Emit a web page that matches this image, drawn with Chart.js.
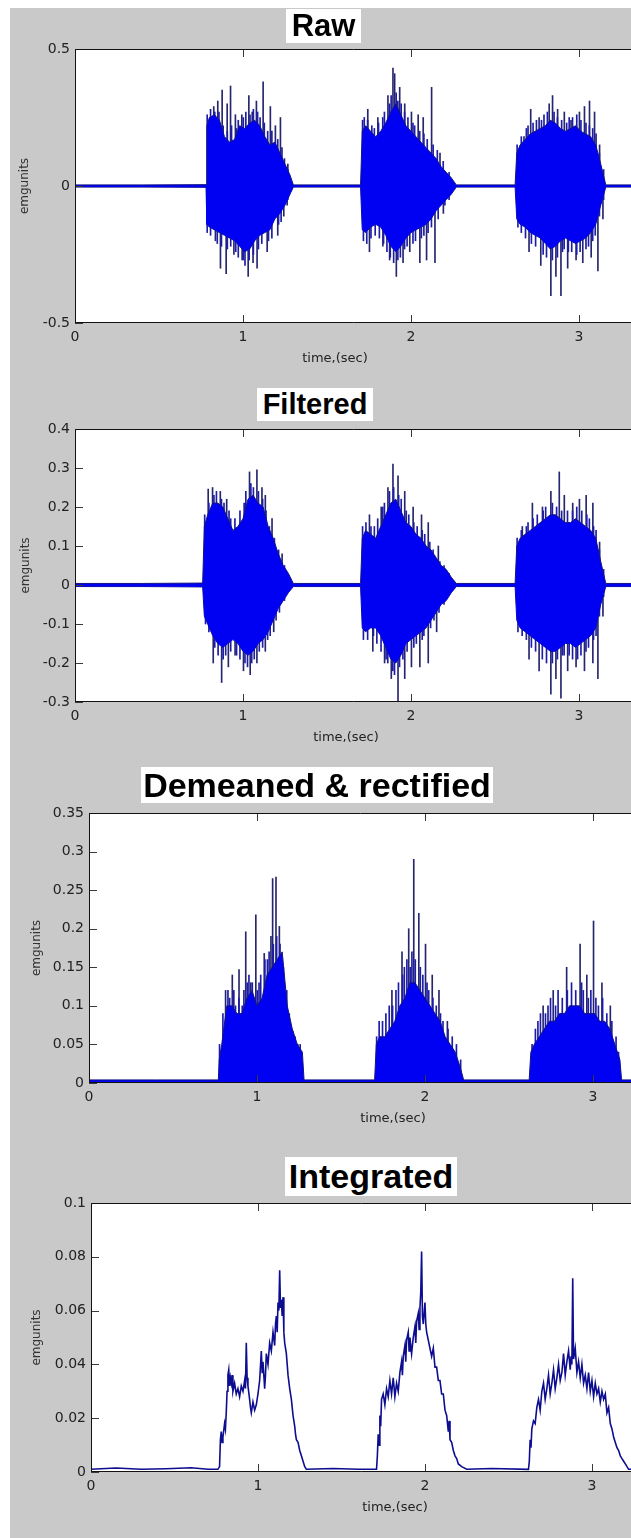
<!DOCTYPE html>
<html>
<head>
<meta charset="utf-8">
<title>EMG processing</title>
<script src="https://cdn.jsdelivr.net/npm/chart.js@4.4.1/dist/chart.umd.min.js"></script>
<style>
  html, body { margin: 0; padding: 0; background: #fff; }
  body { position: relative; width: 631px; height: 1538px; overflow: hidden; }
  #figure { position: absolute; left: 10px; top: 8px; right: 0; bottom: 0; background: #c9c9c9; }
  canvas { position: absolute; left: 10px; }
  .ttl { position: absolute; background: #fff; color: #000; text-align: center; white-space: nowrap;
         font-family: "Liberation Sans", Arial, sans-serif; font-weight: bold; }
</style>
</head>
<body>
<div id="figure"></div>
<canvas id="c1" width="621" height="343" style="top:29px"></canvas>
<canvas id="c2" width="621" height="343" style="top:409px"></canvas>
<canvas id="c3" width="621" height="344" style="top:793px"></canvas>
<canvas id="c4" width="621" height="342" style="top:1183px"></canvas>
<div class="ttl" style="left:286px;top:9px;width:75px;height:34px;line-height:34px;font-size:31px">Raw</div>
<div class="ttl" style="left:257px;top:388px;width:116px;height:33px;line-height:33px;font-size:29px">Filtered</div>
<div class="ttl" style="left:141px;top:767px;width:352px;height:36px;line-height:36px;font-size:34px">Demeaned &amp; rectified</div>
<div class="ttl" style="left:285px;top:1157px;width:172px;height:39px;line-height:39px;font-size:34px">Integrated</div>
<script>
// ---- time axis (s) ----
const timeTicks = [0, 1, 2, 3];

// ---- raw EMG: envelope of the dense trace, big peaks, small peaks ----
const rawT = [0, 0.4, 0.78, 0.785, 0.80, 0.83, 0.86, 0.89, 0.92, 0.95, 0.98, 1.01, 1.04, 1.07, 1.10, 1.13, 1.16, 1.19, 1.22, 1.25, 1.28, 1.30,
  1.70, 1.71, 1.73, 1.76, 1.79, 1.82, 1.85, 1.88, 1.91, 1.94, 1.97, 2.00, 2.03, 2.06, 2.09, 2.12, 2.15, 2.18, 2.21, 2.24, 2.27,
  2.62, 2.63, 2.65, 2.68, 2.71, 2.74, 2.77, 2.80, 2.83, 2.86, 2.89, 2.92, 2.95, 2.98, 3.01, 3.04, 3.07, 3.10, 3.13, 3.16, 3.40];
const rawHi = [0.004, 0.004, 0.005, 0.22, 0.25, 0.26, 0.24, 0.18, 0.16, 0.17, 0.22, 0.21, 0.23, 0.24, 0.22, 0.18, 0.15, 0.16, 0.12, 0.08, 0.04, 0.004,
  0.004, 0.20, 0.22, 0.20, 0.18, 0.20, 0.23, 0.27, 0.30, 0.26, 0.22, 0.20, 0.18, 0.16, 0.14, 0.12, 0.10, 0.07, 0.05, 0.03, 0.004,
  0.004, 0.12, 0.15, 0.17, 0.19, 0.20, 0.21, 0.22, 0.24, 0.23, 0.21, 0.20, 0.21, 0.22, 0.20, 0.19, 0.18, 0.15, 0.08, 0.004, 0.004];
const rawLo = [-0.004, -0.004, -0.005, -0.14, -0.15, -0.16, -0.17, -0.18, -0.19, -0.20, -0.22, -0.24, -0.23, -0.20, -0.18, -0.17, -0.16, -0.12, -0.10, -0.07, -0.03, -0.004,
  -0.004, -0.16, -0.17, -0.15, -0.14, -0.15, -0.18, -0.22, -0.24, -0.22, -0.19, -0.17, -0.16, -0.15, -0.14, -0.12, -0.09, -0.07, -0.05, -0.03, -0.004,
  -0.004, -0.12, -0.14, -0.15, -0.17, -0.18, -0.19, -0.21, -0.23, -0.22, -0.20, -0.19, -0.20, -0.21, -0.20, -0.19, -0.17, -0.14, -0.07, -0.004, -0.004];
const rawPeakT = [0.823, 0.847, 0.873, 0.903, 0.923, 0.952, 0.99, 1.032, 1.052, 1.077, 1.117, 1.16, 1.19, 1.22, 1.244, 1.264,
  0.833, 0.863, 0.897, 0.943, 0.992, 1.028, 1.057, 1.081, 1.141, 1.204, 1.24, 1.26,
  1.74, 1.80, 1.86, 1.89, 1.90, 1.93, 1.96, 2.00, 2.04, 2.07, 2.12, 2.17,
  1.75, 1.83, 1.87, 1.91, 1.95, 1.99, 2.05, 2.09, 2.14, 2.19,
  2.67, 2.71, 2.76, 2.82, 2.84, 2.87, 2.91, 2.95, 3.00, 3.03, 3.06, 3.09, 3.12,
  2.70, 2.77, 2.83, 2.86, 2.89, 2.93, 2.98, 3.02, 3.07, 3.11, 3.14];
const rawPeakV = [0.29, 0.31, 0.35, 0.30, 0.365, 0.26, 0.26, 0.33, 0.27, 0.31, 0.38, 0.29, 0.22, 0.25, 0.10, 0.08,
  -0.20, -0.30, -0.32, -0.25, -0.27, -0.33, -0.28, -0.30, -0.24, -0.18, -0.11, -0.07,
  0.28, 0.25, 0.33, 0.43, 0.41, 0.36, 0.30, 0.27, 0.26, 0.25, 0.36, 0.12,
  -0.24, -0.22, -0.27, -0.33, -0.28, -0.24, -0.28, -0.27, -0.28, -0.10,
  0.18, 0.28, 0.25, 0.30, 0.33, 0.28, 0.27, 0.24, 0.27, 0.29, 0.31, 0.27, 0.15,
  -0.24, -0.29, -0.40, -0.33, -0.40, -0.30, -0.27, -0.28, -0.26, -0.31, -0.12];
const rawFineT = [0.79, 0.81, 0.835, 0.86, 0.885, 0.91, 0.935, 0.965, 0.975, 1.005, 1.02, 1.045, 1.065, 1.09, 1.105, 1.13, 1.15, 1.175, 1.21, 1.235, 1.27,
  0.79, 0.81, 0.85, 0.875, 0.91, 0.93, 0.96, 0.975, 1.005, 1.015, 1.04, 1.065, 1.095, 1.115, 1.155, 1.175, 1.215, 1.23, 1.27,
  1.715, 1.725, 1.745, 1.77, 1.785, 1.81, 1.835, 1.845, 1.875, 1.885, 1.915, 1.925, 1.945, 1.965, 1.985, 2.015, 2.025, 2.055, 2.08, 2.10, 2.135, 2.16, 2.195, 2.23,
  1.72, 1.74, 1.765, 1.79, 1.815, 1.84, 1.86, 1.88, 1.90, 1.925, 1.94, 1.965, 1.98, 2.015, 2.03, 2.065, 2.08, 2.105, 2.125, 2.165, 2.205, 2.23,
  2.635, 2.66, 2.69, 2.70, 2.73, 2.75, 2.78, 2.795, 2.815, 2.855, 2.875, 2.90, 2.93, 2.945, 2.965, 2.99, 3.015, 3.045, 3.065, 3.085, 3.105, 3.125, 3.15,
  2.64, 2.66, 2.685, 2.72, 2.745, 2.79, 2.81, 2.845, 2.875, 2.905, 2.915, 2.94, 2.96, 2.99, 3.01, 3.045, 3.06, 3.085, 3.10, 3.125, 3.15];
const rawFineV = [0.26, 0.28, 0.27, 0.27, 0.22, 0.20, 0.22, 0.21, 0.24, 0.25, 0.27, 0.26, 0.28, 0.27, 0.25, 0.23, 0.20, 0.20, 0.17, 0.14, 0.06,
  -0.17, -0.18, -0.21, -0.22, -0.23, -0.22, -0.24, -0.26, -0.27, -0.29, -0.27, -0.25, -0.23, -0.21, -0.20, -0.19, -0.14, -0.13, -0.05,
  0.24, 0.25, 0.24, 0.22, 0.21, 0.23, 0.25, 0.27, 0.30, 0.33, 0.34, 0.31, 0.30, 0.27, 0.25, 0.23, 0.22, 0.20, 0.19, 0.17, 0.15, 0.13, 0.09, 0.05,
  -0.20, -0.21, -0.19, -0.18, -0.19, -0.21, -0.24, -0.26, -0.28, -0.27, -0.26, -0.23, -0.22, -0.21, -0.20, -0.19, -0.18, -0.17, -0.15, -0.12, -0.07, -0.05,
  0.15, 0.18, 0.21, 0.22, 0.23, 0.24, 0.24, 0.26, 0.27, 0.27, 0.25, 0.24, 0.23, 0.25, 0.25, 0.26, 0.24, 0.23, 0.22, 0.21, 0.19, 0.12, 0.06,
  -0.15, -0.17, -0.19, -0.21, -0.22, -0.25, -0.26, -0.27, -0.26, -0.24, -0.23, -0.24, -0.24, -0.25, -0.24, -0.23, -0.22, -0.20, -0.18, -0.11, -0.05];
const rawYTicks = [-0.5, 0, 0.5];

// ---- filtered EMG ----
const filtT = [0, 0.4, 0.76, 0.77, 0.79, 0.82, 0.85, 0.88, 0.91, 0.94, 0.97, 1.00, 1.03, 1.06, 1.09, 1.12, 1.15, 1.18, 1.21, 1.24, 1.27, 1.30,
  1.70, 1.71, 1.73, 1.76, 1.79, 1.82, 1.85, 1.88, 1.91, 1.94, 1.97, 2.00, 2.03, 2.06, 2.09, 2.12, 2.15, 2.18, 2.21, 2.24, 2.27,
  2.62, 2.63, 2.65, 2.68, 2.71, 2.74, 2.77, 2.80, 2.83, 2.86, 2.89, 2.92, 2.95, 2.98, 3.01, 3.04, 3.07, 3.10, 3.13, 3.16, 3.40];
const filtHi = [0.004, 0.004, 0.005, 0.15, 0.18, 0.21, 0.21, 0.20, 0.17, 0.14, 0.15, 0.17, 0.22, 0.23, 0.21, 0.20, 0.15, 0.12, 0.08, 0.05, 0.03, 0.004,
  0.004, 0.12, 0.14, 0.13, 0.12, 0.15, 0.18, 0.21, 0.22, 0.19, 0.16, 0.15, 0.13, 0.12, 0.10, 0.09, 0.07, 0.05, 0.04, 0.02, 0.004,
  0.004, 0.10, 0.12, 0.13, 0.14, 0.15, 0.16, 0.17, 0.18, 0.18, 0.17, 0.16, 0.16, 0.17, 0.16, 0.15, 0.14, 0.12, 0.06, 0.004, 0.004];
const filtLo = [-0.004, -0.004, -0.005, -0.08, -0.10, -0.13, -0.15, -0.16, -0.15, -0.14, -0.15, -0.17, -0.18, -0.17, -0.15, -0.14, -0.12, -0.09, -0.06, -0.04, -0.02, -0.004,
  -0.004, -0.11, -0.12, -0.11, -0.11, -0.13, -0.16, -0.19, -0.20, -0.18, -0.15, -0.14, -0.13, -0.12, -0.11, -0.09, -0.07, -0.05, -0.04, -0.02, -0.004,
  -0.004, -0.09, -0.11, -0.12, -0.13, -0.14, -0.15, -0.16, -0.17, -0.17, -0.16, -0.15, -0.15, -0.16, -0.15, -0.14, -0.13, -0.11, -0.05, -0.004, -0.004];
const filtPeakT = [0.79, 0.816, 0.862, 0.90, 0.98, 1.036, 1.08, 1.11, 1.13, 1.17, 1.23,
  0.82, 0.87, 0.91, 0.95, 1.00, 1.04, 1.08, 1.13, 1.18,
  1.75, 1.82, 1.86, 1.89, 1.92, 1.96, 2.01, 2.06, 2.10, 2.16,
  1.77, 1.84, 1.88, 1.92, 1.96, 2.00, 2.05, 2.10, 2.15,
  2.66, 2.72, 2.78, 2.83, 2.88, 2.91, 2.96, 3.00, 3.04, 3.08, 3.12,
  2.70, 2.76, 2.83, 2.86, 2.89, 2.93, 2.98, 3.03, 3.08, 3.11, 3.14];
const filtPeakV = [0.246, 0.25, 0.24, 0.22, 0.16, 0.29, 0.295, 0.25, 0.23, 0.17, 0.08,
  -0.20, -0.25, -0.21, -0.18, -0.22, -0.23, -0.20, -0.17, -0.12,
  0.18, 0.20, 0.25, 0.31, 0.28, 0.24, 0.20, 0.18, 0.16, 0.10,
  -0.17, -0.20, -0.24, -0.30, -0.24, -0.21, -0.21, -0.20, -0.12,
  0.15, 0.21, 0.20, 0.24, 0.29, 0.23, 0.21, 0.22, 0.23, 0.21, 0.11,
  -0.19, -0.22, -0.28, -0.24, -0.29, -0.22, -0.21, -0.22, -0.20, -0.24, -0.08];
const filtFineT = [0.775, 0.80, 0.83, 0.845, 0.875, 0.89, 0.92, 0.93, 0.955, 0.985, 1.01, 1.02, 1.05, 1.065, 1.095, 1.12, 1.14, 1.16, 1.19, 1.215, 1.25,
  0.78, 0.80, 0.835, 0.855, 0.885, 0.90, 0.93, 0.965, 0.985, 1.015, 1.03, 1.055, 1.07, 1.10, 1.12, 1.15, 1.165, 1.20, 1.22, 1.25,
  1.715, 1.735, 1.765, 1.785, 1.805, 1.835, 1.845, 1.875, 1.90, 1.93, 1.945, 1.975, 1.99, 2.02, 2.04, 2.07, 2.085, 2.115, 2.135, 2.175, 2.20, 2.23,
  1.72, 1.745, 1.78, 1.80, 1.825, 1.855, 1.865, 1.895, 1.905, 1.935, 1.955, 1.98, 2.02, 2.035, 2.07, 2.08, 2.12, 2.14, 2.17, 2.20,
  2.635, 2.66, 2.69, 2.70, 2.73, 2.755, 2.79, 2.805, 2.845, 2.87, 2.90, 2.935, 2.965, 2.99, 3.02, 3.05, 3.065, 3.09, 3.105, 3.125, 3.15,
  2.64, 2.665, 2.69, 2.72, 2.745, 2.785, 2.81, 2.845, 2.875, 2.905, 2.915, 2.945, 2.965, 2.995, 3.015, 3.045, 3.06, 3.09, 3.105, 3.125, 3.15];
const filtFineV = [0.18, 0.21, 0.23, 0.24, 0.22, 0.21, 0.19, 0.17, 0.17, 0.19, 0.21, 0.24, 0.26, 0.25, 0.24, 0.22, 0.19, 0.15, 0.12, 0.09, 0.05,
  -0.10, -0.12, -0.16, -0.18, -0.19, -0.18, -0.17, -0.18, -0.19, -0.20, -0.21, -0.20, -0.19, -0.17, -0.16, -0.14, -0.13, -0.09, -0.07, -0.04,
  0.15, 0.16, 0.15, 0.15, 0.17, 0.20, 0.21, 0.24, 0.25, 0.23, 0.22, 0.19, 0.18, 0.16, 0.15, 0.14, 0.13, 0.11, 0.09, 0.06, 0.05, 0.03,
  -0.14, -0.14, -0.13, -0.15, -0.17, -0.19, -0.20, -0.22, -0.23, -0.21, -0.19, -0.17, -0.16, -0.15, -0.14, -0.13, -0.11, -0.09, -0.07, -0.05,
  0.12, 0.14, 0.15, 0.16, 0.17, 0.18, 0.19, 0.20, 0.21, 0.20, 0.19, 0.19, 0.19, 0.20, 0.19, 0.18, 0.17, 0.15, 0.14, 0.09, 0.04,
  -0.12, -0.13, -0.14, -0.16, -0.17, -0.19, -0.20, -0.20, -0.19, -0.18, -0.18, -0.18, -0.19, -0.19, -0.18, -0.17, -0.16, -0.14, -0.13, -0.08, -0.03];
const filtYTicks = [-0.3, -0.2, -0.1, 0, 0.1, 0.2, 0.3, 0.4];

// ---- demeaned & rectified ----
const rectT = [0, 0.4, 0.77, 0.775, 0.79, 0.82, 0.85, 0.88, 0.91, 0.94, 0.97, 1.00, 1.03, 1.06, 1.09, 1.12, 1.15, 1.18, 1.21, 1.24, 1.27, 1.28,
  1.70, 1.71, 1.73, 1.76, 1.79, 1.82, 1.85, 1.88, 1.91, 1.94, 1.97, 2.00, 2.03, 2.06, 2.09, 2.12, 2.15, 2.18, 2.21, 2.23,
  2.62, 2.63, 2.65, 2.68, 2.71, 2.74, 2.77, 2.80, 2.83, 2.86, 2.89, 2.92, 2.95, 2.98, 3.01, 3.04, 3.07, 3.10, 3.13, 3.16, 3.17, 3.40];
const rectHi = [0.004, 0.004, 0.004, 0.03, 0.05, 0.10, 0.10, 0.09, 0.09, 0.11, 0.12, 0.10, 0.11, 0.14, 0.15, 0.16, 0.17, 0.10, 0.07, 0.05, 0.04, 0.004,
  0.004, 0.05, 0.06, 0.06, 0.07, 0.08, 0.10, 0.11, 0.13, 0.13, 0.12, 0.11, 0.10, 0.09, 0.08, 0.06, 0.05, 0.04, 0.02, 0.004,
  0.004, 0.04, 0.05, 0.06, 0.07, 0.08, 0.08, 0.09, 0.09, 0.10, 0.10, 0.10, 0.09, 0.09, 0.09, 0.08, 0.08, 0.07, 0.05, 0.03, 0.004, 0.004];
const rectPeakT = [0.81, 0.85, 0.89, 0.93, 0.96, 0.99, 1.04, 1.08, 1.09, 1.11, 1.13, 1.17, 1.21, 1.24,
  1.80, 1.86, 1.90, 1.93, 1.96, 2.00, 2.04, 2.08, 2.13,
  2.70, 2.76, 2.84, 2.92, 2.96, 3.00, 3.05, 3.10];
const rectPeakV = [0.12, 0.14, 0.147, 0.196, 0.13, 0.218, 0.168, 0.19, 0.265, 0.267, 0.203, 0.114, 0.067, 0.05,
  0.12, 0.17, 0.20, 0.29, 0.22, 0.18, 0.14, 0.12, 0.08,
  0.10, 0.12, 0.15, 0.18, 0.14, 0.21, 0.13, 0.10];
const rectFineT = [0.78, 0.80, 0.83, 0.84, 0.865, 0.875, 0.895, 0.915, 0.925, 0.945, 0.955, 0.975, 1.005, 1.015, 1.025, 1.05, 1.065, 1.075, 1.10, 1.12, 1.14, 1.16, 1.18, 1.195, 1.23, 1.26,
  1.715, 1.73, 1.75, 1.77, 1.79, 1.81, 1.83, 1.845, 1.87, 1.88, 1.895, 1.915, 1.925, 1.945, 1.975, 1.99, 2.015, 2.025, 2.05, 2.07, 2.095, 2.11, 2.14, 2.165, 2.19, 2.215,
  2.64, 2.66, 2.675, 2.69, 2.72, 2.735, 2.75, 2.78, 2.795, 2.82, 2.85, 2.875, 2.90, 2.935, 2.945, 2.975, 2.99, 3.02, 3.035, 3.06, 3.085, 3.115, 3.14, 3.155];
const rectFineV = [0.05, 0.09, 0.12, 0.11, 0.12, 0.10, 0.11, 0.10, 0.12, 0.13, 0.14, 0.13, 0.12, 0.13, 0.14, 0.16, 0.16, 0.17, 0.18, 0.19, 0.18, 0.15, 0.12, 0.09, 0.06, 0.05,
  0.06, 0.08, 0.08, 0.09, 0.10, 0.10, 0.12, 0.13, 0.14, 0.15, 0.16, 0.15, 0.17, 0.16, 0.15, 0.14, 0.13, 0.12, 0.11, 0.10, 0.09, 0.08, 0.07, 0.06, 0.05, 0.03,
  0.05, 0.07, 0.08, 0.09, 0.09, 0.10, 0.11, 0.10, 0.12, 0.11, 0.12, 0.13, 0.12, 0.13, 0.12, 0.11, 0.12, 0.11, 0.10, 0.11, 0.09, 0.08, 0.06, 0.04];
const rectYTicks = [0, 0.05, 0.1, 0.15, 0.2, 0.25, 0.3, 0.35];

// ---- integrated ----
const integT = [0, 0.15, 0.3, 0.45, 0.6, 0.7, 0.76, 0.77, 0.775, 0.78, 0.785, 0.79, 0.80, 0.805, 0.81, 0.815, 0.82, 0.825, 0.83, 0.835,
  0.84, 0.845, 0.85, 0.86, 0.87, 0.88, 0.89, 0.90, 0.91, 0.92, 0.925, 0.93, 0.935, 0.94, 0.95, 0.955, 0.96, 0.97, 0.98, 0.99,
  1.00, 1.01, 1.02, 1.025, 1.03, 1.04, 1.045, 1.05, 1.06, 1.07, 1.08, 1.09, 1.10, 1.105, 1.11, 1.115, 1.12, 1.125, 1.13, 1.135,
  1.14, 1.145, 1.15, 1.155, 1.16, 1.17, 1.18, 1.19, 1.20, 1.205, 1.21, 1.22, 1.225, 1.23, 1.24, 1.25, 1.26, 1.27, 1.28, 1.29,
  1.45, 1.6, 1.71,
  1.715, 1.72, 1.725, 1.73, 1.735, 1.74, 1.75, 1.76, 1.77, 1.78, 1.79, 1.80, 1.81, 1.82, 1.83, 1.84, 1.85, 1.86, 1.865, 1.87,
  1.88, 1.885, 1.89, 1.90, 1.905, 1.91, 1.92, 1.93, 1.94, 1.945, 1.95, 1.96, 1.965, 1.97, 1.975, 1.98, 1.985, 1.99, 2.00, 2.005,
  2.01, 2.02, 2.03, 2.04, 2.05, 2.06, 2.07, 2.08, 2.09, 2.10, 2.11, 2.12, 2.13, 2.14, 2.145, 2.15, 2.16, 2.17, 2.18, 2.19,
  2.20, 2.22, 2.25, 2.4, 2.62,
  2.625, 2.63, 2.635, 2.64, 2.65, 2.66, 2.67, 2.68, 2.69, 2.70, 2.71, 2.72, 2.73, 2.74, 2.75, 2.76, 2.77, 2.78, 2.79, 2.80,
  2.81, 2.82, 2.83, 2.84, 2.85, 2.86, 2.87, 2.875, 2.88, 2.885, 2.89, 2.90, 2.91, 2.92, 2.93, 2.94, 2.95, 2.96, 2.97, 2.98,
  2.99, 3.00, 3.01, 3.02, 3.03, 3.04, 3.05, 3.06, 3.07, 3.08, 3.09, 3.10, 3.11, 3.12, 3.13, 3.14, 3.15, 3.16, 3.17, 3.18,
  3.19, 3.20, 3.21, 3.22, 3.40];
const integV = [0.001, 0.0015, 0.001, 0.0012, 0.0016, 0.001, 0.001, 0.002, 0.012, 0.015, 0.011, 0.013, 0.018, 0.016, 0.022, 0.030, 0.036, 0.038, 0.032, 0.035,
  0.033, 0.036, 0.030, 0.033, 0.029, 0.031, 0.028, 0.032, 0.030, 0.034, 0.031, 0.048, 0.035, 0.032, 0.027, 0.024, 0.022, 0.026, 0.023, 0.025,
  0.029, 0.034, 0.045, 0.037, 0.041, 0.031, 0.036, 0.044, 0.040, 0.048, 0.045, 0.052, 0.047, 0.055, 0.058, 0.052, 0.063, 0.060, 0.075, 0.061,
  0.064, 0.058, 0.065, 0.052, 0.048, 0.044, 0.036, 0.031, 0.027, 0.024, 0.021, 0.017, 0.014, 0.012, 0.011, 0.008, 0.006, 0.004, 0.002, 0.001,
  0.0013, 0.001, 0.001,
  0.006, 0.014, 0.010, 0.021, 0.017, 0.027, 0.029, 0.025, 0.031, 0.028, 0.034, 0.029, 0.035, 0.028, 0.033, 0.030, 0.037, 0.041, 0.036, 0.043,
  0.047, 0.041, 0.049, 0.052, 0.045, 0.050, 0.044, 0.050, 0.054, 0.048, 0.056, 0.059, 0.053, 0.061, 0.067, 0.082, 0.058, 0.055, 0.063, 0.055,
  0.052, 0.049, 0.046, 0.043, 0.046, 0.039, 0.039, 0.034, 0.034, 0.029, 0.029, 0.023, 0.021, 0.015, 0.019, 0.012, 0.011, 0.008, 0.006, 0.005,
  0.003, 0.002, 0.001, 0.0013, 0.001,
  0.004, 0.012, 0.009, 0.016, 0.019, 0.018, 0.024, 0.027, 0.023, 0.030, 0.033, 0.027, 0.031, 0.036, 0.029, 0.033, 0.038, 0.031, 0.035, 0.040,
  0.034, 0.037, 0.044, 0.036, 0.041, 0.045, 0.038, 0.043, 0.040, 0.072, 0.042, 0.046, 0.037, 0.041, 0.035, 0.040, 0.033, 0.036, 0.031, 0.037,
  0.030, 0.034, 0.028, 0.033, 0.029, 0.031, 0.026, 0.030, 0.027, 0.029, 0.022, 0.024, 0.018, 0.016, 0.013, 0.011, 0.009, 0.008, 0.006, 0.005,
  0.004, 0.003, 0.002, 0.001, 0.001];
const integYTicks = [0, 0.02, 0.04, 0.06, 0.08, 0.1];

// ---- styling ----
const FILL = '#0000f2';
const EDGE = '#141485';
const PEAK = '#26266e';
const FINE = '#1c1ca8';
const TICK_FONT = { family: 'DejaVu Sans', size: 14 };
const LABEL_FONT = { family: 'DejaVu Sans', size: 12 };

const pts = (xs, ys) => xs.map((x, i) => ({ x: x, y: ys[i] }));

// white axes box, inward tick marks, xlabel
const matlabAxes = {
  id: 'matlabAxes',
  beforeDraw(chart) {
    const { ctx, chartArea: a } = chart;
    ctx.save();
    ctx.fillStyle = '#fff';
    ctx.fillRect(a.left, a.top, a.right - a.left, a.bottom - a.top);
    ctx.restore();
  },
  afterDraw(chart, args, opts) {
    const { ctx, chartArea: a, scales } = chart;
    const x = scales.x, y = scales.y;
    const L = 8;
    ctx.save();
    ctx.lineWidth = 1;
    ctx.strokeStyle = '#3a3a3a';
    ctx.beginPath();
    x.ticks.forEach(t => {
      const px = Math.round(x.getPixelForValue(t.value)) + 0.5;
      ctx.moveTo(px, a.bottom); ctx.lineTo(px, a.bottom - L);
      ctx.moveTo(px, a.top); ctx.lineTo(px, a.top + L);
    });
    y.ticks.forEach(t => {
      const py = Math.round(y.getPixelForValue(t.value)) + 0.5;
      ctx.moveTo(a.left, py); ctx.lineTo(a.left + L, py);
    });
    ctx.stroke();
    ctx.strokeStyle = '#111';
    ctx.beginPath();
    ctx.moveTo(a.right, a.top + 0.5);
    ctx.lineTo(a.left + 0.5, a.top + 0.5);
    ctx.lineTo(a.left + 0.5, a.bottom - 0.5);
    ctx.lineTo(a.right, a.bottom - 0.5);
    ctx.stroke();
    ctx.fillStyle = '#222';
    ctx.font = '13px "DejaVu Sans"';
    ctx.textAlign = 'center';
    ctx.textBaseline = 'middle';
    ctx.fillText('time,(sec)', a.left + opts.labelDx, a.bottom + opts.labelDy);
    ctx.restore();
  }
};

function panel(id, p) {
  return new Chart(document.getElementById(id), {
    type: 'line',
    data: { datasets: p.datasets },
    plugins: [matlabAxes],
    options: {
      responsive: false,
      animation: false,
      layout: { padding: { top: p.padTop, left: 0, right: 0, bottom: 0 } },
      elements: { point: { radius: 0 }, line: { tension: 0 } },
      plugins: {
        legend: { display: false },
        tooltip: { enabled: false },
        matlabAxes: { labelDx: p.labelDx, labelDy: 36 }
      },
      scales: {
        x: {
          type: 'linear', min: 0, max: p.xMax, offset: false,
          afterBuildTicks: s => { s.ticks = timeTicks.map(v => ({ value: v })); },
          afterFit: s => { s.height = p.axisH; },
          grid: { display: false, drawTicks: false },
          border: { display: false },
          ticks: { font: TICK_FONT, color: '#222', padding: 6, autoSkip: false, maxRotation: 0, callback: v => String(v) }
        },
        y: {
          min: p.yTicks[0], max: p.yTicks[p.yTicks.length - 1],
          afterBuildTicks: s => { s.ticks = p.yTicks.map(v => ({ value: v })); },
          afterFit: s => { s.width = p.axisW; },
          grid: { display: false, drawTicks: false },
          border: { display: false },
          ticks: { font: TICK_FONT, color: '#222', padding: 5, callback: v => String(v) },
          title: { display: true, text: 'emgunits', font: LABEL_FONT, color: '#333', padding: { top: p.ylabPad, bottom: 0 } }
        }
      }
    }
  });
}

function burstSets(t, hi, lo, peakT, peakV, fineT, fineV) {
  const sets = [
    { data: pts(t, hi), borderColor: EDGE, borderWidth: 1, backgroundColor: FILL, fill: lo ? '+1' : 'origin' }
  ];
  if (lo) sets.push({ data: pts(t, lo), borderColor: EDGE, borderWidth: 1, fill: false });
  sets.push({ type: 'bar', data: pts(fineT, fineV), backgroundColor: FINE, borderWidth: 0, barThickness: 1 });
  sets.push({ type: 'bar', data: pts(peakT, peakV), backgroundColor: PEAK, borderWidth: 0, barThickness: 1 });
  return sets;
}

panel('c1', { padTop: 20, axisH: 49, axisW: 65, xMax: 3.31, labelDx: 260, ylabPad: 8, yTicks: rawYTicks,
  datasets: burstSets(rawT, rawHi, rawLo, rawPeakT, rawPeakV, rawFineT, rawFineV) });
panel('c2', { padTop: 20, axisH: 50, axisW: 65, xMax: 3.31, labelDx: 271, ylabPad: 9, yTicks: filtYTicks,
  datasets: burstSets(filtT, filtHi, filtLo, filtPeakT, filtPeakV, filtFineT, filtFineV) });
panel('c3', { padTop: 20, axisH: 54, axisW: 79, xMax: 3.226, labelDx: 304, ylabPad: 20, yTicks: rectYTicks,
  datasets: burstSets(rectT, rectHi, null, rectPeakT, rectPeakV, rectFineT, rectFineV) });
panel('c4', { padTop: 20, axisH: 53, axisW: 81, xMax: 3.234, labelDx: 304, ylabPad: 20, yTicks: integYTicks,
  datasets: [{ data: pts(integT, integV), borderColor: '#0d0d90', borderWidth: 1.6, fill: false }] });
</script>
</body>
</html>
